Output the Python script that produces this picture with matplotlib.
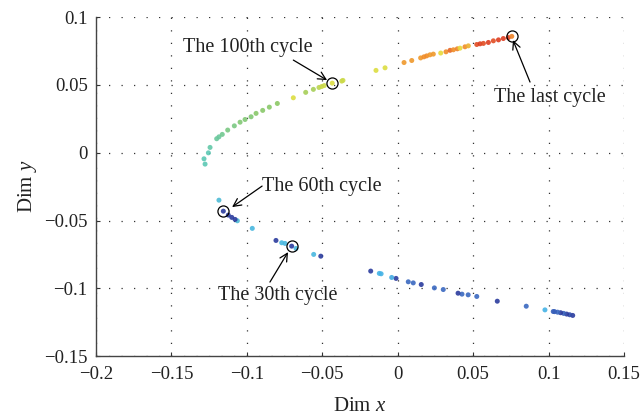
import numpy as np
import matplotlib
matplotlib.use('Agg')
import matplotlib.pyplot as plt
from matplotlib.colors import LinearSegmentedColormap

plt.rcParams.update({
    'font.family': 'Liberation Serif',
    'font.size': 13,
    'mathtext.fontset': 'custom',
    'mathtext.rm': 'Liberation Serif',
    'mathtext.it': 'Liberation Serif:italic',
})

# trajectory points (bottom right = early cycles, top right = last cycle)
dim_x = [0.116, 0.114, 0.112, 0.110, 0.108, 0.106, 0.104, 0.1031, 0.0976, 0.0852, 0.0660,
         0.0524, 0.0467, 0.0426, 0.0400, 0.0302, 0.0243, 0.0156, 0.0103, 0.0070, -0.0011,
         -0.0040, -0.0110, -0.0122, -0.0179, -0.0510, -0.0557, -0.0674, -0.0703, -0.0747,
         -0.0769, -0.0807, -0.0964, -0.1063, -0.1078, -0.1100, -0.1123, -0.1156, -0.1185,
         -0.1277, -0.1284, -0.1255, -0.1244, -0.1200, -0.1185, -0.1163, -0.1127, -0.1083,
         -0.1045, -0.1012, -0.0972, -0.0939, -0.0895, -0.0851, -0.0798, -0.0692, -0.0610,
         -0.0559, -0.0522, -0.0504, -0.0487, -0.0434, -0.0371, -0.0363, -0.0144, -0.0084,
         0.0042, 0.0093, 0.0152, 0.0174, 0.0192, 0.0214, 0.0236, 0.0285, 0.0320, 0.0347,
         0.0369, 0.0395, 0.0413, 0.0446, 0.0468, 0.0524, 0.0546, 0.0568, 0.0601, 0.0634,
         0.0668, 0.0700, 0.0733, 0.0756]
dim_y = [-0.1200, -0.1195, -0.1190, -0.1185, -0.1180, -0.1176, -0.1172, -0.1171, -0.1159,
         -0.1132, -0.1095, -0.1060, -0.1048, -0.1043, -0.1036, -0.1009, -0.0997, -0.0972,
         -0.0960, -0.0952, -0.0927, -0.0920, -0.0893, -0.0890, -0.0873, -0.0763, -0.0750,
         -0.0706, -0.0689, -0.0669, -0.0664, -0.0647, -0.0558, -0.0502, -0.0492, -0.0477,
         -0.0460, -0.0431, -0.0350, -0.0084, -0.0045, -0.0001, 0.0039, 0.0103, 0.0117,
         0.0135, 0.0167, 0.0198, 0.0225, 0.0245, 0.0265, 0.0290, 0.0312, 0.0336, 0.0363,
         0.0405, 0.0445, 0.0467, 0.0481, 0.0488, 0.0495, 0.0513, 0.0528, 0.0533, 0.0607,
         0.0626, 0.0665, 0.0680, 0.0699, 0.0707, 0.0714, 0.0722, 0.0727, 0.0735, 0.0744,
         0.0755, 0.0759, 0.0766, 0.0771, 0.0781, 0.0788, 0.0798, 0.0803, 0.0806, 0.0813,
         0.0825, 0.0832, 0.0842, 0.0849, 0.0858]
# colour value per point (0 = dark blue ... 1 = red)
color_val = [0.0, 0.05, 0.0, 0.12, 0.0, 0.15, 0.12, 0.12, 0.3, 0.15, 0.0,
             0.15, 0.15, 0.15, 0.0, 0.15, 0.15, 0.0, 0.15, 0.15, 0.0,
             0.28, 0.3, 0.3, 0.0, 0.0, 0.32, 0.32, 0.0, 0.32,
             0.32, 0.0, 0.32, 0.34, 0.0, 0.0, 0.0, 0.0, 0.34,
             0.42, 0.42, 0.42, 0.44, 0.46, 0.46, 0.48, 0.5, 0.5,
             0.52, 0.52, 0.52, 0.54, 0.54, 0.54, 0.55, 0.64, 0.58,
             0.58, 0.6, 0.62, 0.62, 0.64, 0.62, 0.62, 0.64, 0.64,
             0.76, 0.76, 0.76, 0.78, 0.78, 0.76, 0.76, 0.66, 0.78, 0.86,
             0.78, 0.8, 0.66, 0.78, 0.72, 0.92, 0.95, 0.92, 0.95, 0.92,
             0.95, 0.95, 0.95, 0.8]

# highlighted cycles: (label, point, text position, arrow tail, arrow head)
marked_labels = ['The 100th cycle', 'The last cycle', 'The 60th cycle', 'The 30th cycle']
marked_pts = [(-0.0434, 0.0513), (0.0756, 0.0858), (-0.1156, -0.0431), (-0.0703, -0.0689)]
text_pos = [(-0.0992, 0.0779), (0.1010, 0.0410), (-0.0502, -0.0246), (-0.0793, -0.1050)]
arrow_tail = [(-0.0692, 0.0683), (0.0877, 0.0521), (-0.0899, -0.0246), (-0.0847, -0.0954)]
arrow_head = [(-0.0468, 0.0535), (0.0764, 0.0830), (-0.1098, -0.0401), (-0.0727, -0.0733)]

cmap = LinearSegmentedColormap.from_list('muted', [
    (0.00, '#2b3c9e'), (0.15, '#3a68c0'), (0.30, '#45b4e6'), (0.42, '#5cc8b4'),
    (0.55, '#8cc864'), (0.65, '#e6e03c'), (0.78, '#f08c28'), (1.00, '#d8281e')])

fig = plt.figure(figsize=(6.4, 4.17), dpi=100)
ax = fig.add_axes([0.15, 0.146, 0.825, 0.813])

ax.scatter(dim_x, dim_y, c=color_val, cmap=cmap, vmin=0, vmax=1, s=13,
           alpha=0.9, linewidths=0, zorder=3)

mx = [p[0] for p in marked_pts]
my = [p[1] for p in marked_pts]
ax.plot(mx, my, 'o', mfc='none', mec='black', mew=0.9, ms=8, zorder=4)

for lab, tp, tail, head in zip(marked_labels, text_pos, arrow_tail, arrow_head):
    ax.text(tp[0], tp[1], lab, ha='center', va='center', fontsize=14.5, color='#222222')
    ax.annotate('', xy=head, xytext=tail,
                arrowprops=dict(arrowstyle='->', color='black', lw=0.9,
                                shrinkA=0, shrinkB=0, mutation_scale=14))

ax.set_xlim(-0.2, 0.15)
ax.set_ylim(-0.15, 0.1)
ax.set_xticks([-0.2, -0.15, -0.1, -0.05, 0, 0.05, 0.1, 0.15])
ax.set_yticks([-0.15, -0.1, -0.05, 0, 0.05, 0.1])
ax.set_xticklabels(['\u22120.2', '\u22120.15', '\u22120.1', '\u22120.05', '0', '0.05', '0.1', '0.15'])
ax.set_yticklabels(['\u22120.15', '\u22120.1', '\u22120.05', '0', '0.05', '0.1'])
ax.tick_params(direction='in', length=3, width=0.8, colors='#333333', labelcolor='#222222',
               labelsize=13.5)
ax.tick_params(axis='x', pad=7)
ax.tick_params(axis='y', pad=6)
ax.grid(True, linestyle=(0, (1, 9)), color='#333333', linewidth=0.9)

for side in ['top', 'right']:
    ax.spines[side].set_visible(False)
for side in ['left', 'bottom']:
    ax.spines[side].set_color('#444444')
    ax.spines[side].set_linewidth(1.0)

ax.set_xlabel('Dim $x$', fontsize=15, color='#222222', labelpad=10)
ax.set_ylabel('Dim $y$', fontsize=15, color='#222222', labelpad=4)

fig.savefig('out.png', dpi=100)
